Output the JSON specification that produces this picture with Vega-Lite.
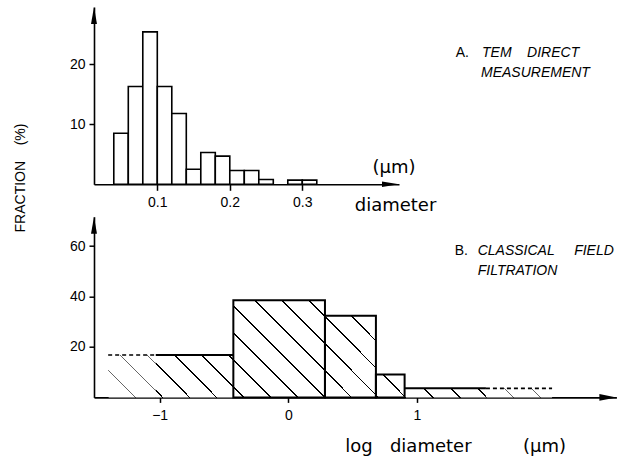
{
  "$schema": "https://vega.github.io/schema/vega-lite/v6.json",
  "background": "white",
  "padding": {"left": 13, "top": 7, "right": 0, "bottom": 0},
  "bounds": "flush",
  "spacing": 31.7,
  "resolve": {"scale": {"x": "independent", "y": "independent"}},
  "config": {
    "view": {"stroke": null},
    "font": "Liberation Sans",
    "axis": {
      "grid": false,
      "labelFont": "Liberation Sans",
      "labelFontSize": 14,
      "labelColor": "black",
      "domainColor": "black",
      "domainWidth": 1.6,
      "tickColor": "black",
      "tickWidth": 1.5,
      "tickSize": 5,
      "titleFont": "DejaVu Sans",
      "titleFontWeight": "normal",
      "titleFontSize": 18,
      "titleColor": "black"
    }
  },
  "vconcat": [
    {
      "width": 305,
      "height": 177.3,
      "layer": [
        {
          "data": {"values": [
            {"lo": 0.04, "hi": 0.06, "frac": 8.5},
            {"lo": 0.06, "hi": 0.08, "frac": 16.3},
            {"lo": 0.08, "hi": 0.10, "frac": 25.4},
            {"lo": 0.10, "hi": 0.12, "frac": 16.3},
            {"lo": 0.12, "hi": 0.14, "frac": 11.8},
            {"lo": 0.14, "hi": 0.16, "frac": 2.5},
            {"lo": 0.16, "hi": 0.18, "frac": 5.3},
            {"lo": 0.18, "hi": 0.20, "frac": 4.7},
            {"lo": 0.20, "hi": 0.22, "frac": 2.3},
            {"lo": 0.22, "hi": 0.24, "frac": 2.3},
            {"lo": 0.24, "hi": 0.26, "frac": 0.8},
            {"lo": 0.28, "hi": 0.30, "frac": 0.7},
            {"lo": 0.30, "hi": 0.32, "frac": 0.7}
          ]},
          "mark": {"type": "rect", "fill": "white", "stroke": "black", "strokeWidth": 1.6},
          "encoding": {
            "x": {
              "field": "lo", "type": "quantitative",
              "scale": {"domain": [0.0127, 0.4334], "nice": false, "zero": false},
              "axis": {
                "values": [0.1, 0.2, 0.3], "format": ".1f", "tickSize": 6, "labelPadding": 5,
                "title": "diameter",
                "titleX": 301, "titleY": 25.7, "titleAlign": "center", "titleBaseline": "alphabetic"
              }
            },
            "x2": {"field": "hi"},
            "y": {
              "field": "frac", "type": "quantitative",
              "scale": {"domain": [0, 29.55], "nice": false, "zero": false},
              "axis": {
                "values": [10, 20], "tickSize": 5, "labelPadding": 4,
                "title": "FRACTION\u00a0\u00a0\u00a0\u00a0(%)",
                "titleX": -73.2, "titleY": 170.5, "titleAngle": 270,
                "titleAlign": "center", "titleBaseline": "middle",
                "titleFont": "Liberation Sans", "titleFontSize": 14
              }
            },
            "y2": {"datum": 0}
          }
        },
        {
          "data": {"values": [{}]},
          "mark": {"type": "point", "filled": true, "fill": "black", "stroke": null, "opacity": 1, "size": 289, "shape": "M0,0L0.35,2L-0.35,2Z"},
          "encoding": {
            "x": {"datum": 0.0127, "type": "quantitative"},
            "y": {"datum": 29.55, "type": "quantitative"}
          }
        },
        {
          "data": {"values": [{}]},
          "mark": {"type": "point", "filled": true, "fill": "black", "stroke": null, "opacity": 1, "size": 289, "shape": "M0,0L-2,-0.33L-2,0.33Z"},
          "encoding": {
            "x": {"datum": 0.4334, "type": "quantitative"},
            "y": {"datum": 0, "type": "quantitative"}
          }
        },
        {
          "data": {"values": [{}]},
          "mark": {"type": "text", "text": "(μm)", "align": "center", "baseline": "alphabetic", "font": "DejaVu Sans", "fontSize": 18, "color": "black"},
          "encoding": {
            "x": {"datum": 0.4265, "type": "quantitative"},
            "y": {"datum": 1.93, "type": "quantitative"}
          }
        },
        {
          "data": {"values": [{}]},
          "mark": {"type": "text", "text": "A.", "align": "left", "baseline": "middle", "font": "Liberation Sans", "fontSize": 14, "color": "black"},
          "encoding": {
            "x": {"datum": 0.5116, "type": "quantitative"},
            "y": {"datum": 21.82, "type": "quantitative"}
          }
        },
        {
          "data": {"values": [{}]},
          "mark": {"type": "text", "text": "TEM\u00a0\u00a0\u00a0\u00a0DIRECT", "align": "left", "baseline": "middle", "font": "Liberation Sans", "fontStyle": "italic", "fontSize": 14, "color": "black"},
          "encoding": {
            "x": {"datum": 0.5479, "type": "quantitative"},
            "y": {"datum": 21.82, "type": "quantitative"}
          }
        },
        {
          "data": {"values": [{}]},
          "mark": {"type": "text", "text": "MEASUREMENT", "align": "left", "baseline": "middle", "font": "Liberation Sans", "fontStyle": "italic", "fontSize": 14, "color": "black"},
          "encoding": {
            "x": {"datum": 0.5465, "type": "quantitative"},
            "y": {"datum": 18.48, "type": "quantitative"}
          }
        }
      ]
    },
    {
      "width": 522.4,
      "height": 180.7,
      "data": {"values": [
        {"lo": -1.4, "hi": -1.03, "frac": 16.8, "part": "extrapolated"},
        {"lo": -1.03, "hi": -0.427, "frac": 16.8, "part": "measured"},
        {"lo": -0.427, "hi": 0.285, "frac": 38.5, "part": "measured"},
        {"lo": 0.285, "hi": 0.681, "frac": 32.4, "part": "measured"},
        {"lo": 0.681, "hi": 0.904, "frac": 9.1, "part": "measured"},
        {"lo": 0.904, "hi": 1.536, "frac": 3.6, "part": "measured"},
        {"lo": 1.536, "hi": 2.05, "frac": 3.6, "part": "extrapolated"}
      ]},
      "layer": [
        {
          "transform": [{"filter": "datum.lo == -1.4"}],
          "mark": {"type": "rect", "strokeWidth": 0, "fill": {"gradient": "linear", "x1": 0, "y1": 1, "x2": 1.0553, "y2": 0.0622, "stops": [
            {"offset": 0, "color": "#666"}, {"offset": 0.0117, "color": "#666"}, {"offset": 0.0117, "color": "white"},
            {"offset": 0.2964, "color": "white"}, {"offset": 0.2964, "color": "#666"}, {"offset": 0.3120, "color": "#666"}, {"offset": 0.3120, "color": "white"},
            {"offset": 0.5967, "color": "white"}, {"offset": 0.5967, "color": "#666"}, {"offset": 0.6123, "color": "#666"}, {"offset": 0.6123, "color": "white"},
            {"offset": 0.8971, "color": "white"}, {"offset": 0.8971, "color": "#666"}, {"offset": 0.9127, "color": "#666"}, {"offset": 0.9127, "color": "white"},
            {"offset": 1, "color": "white"}
          ]}},
          "encoding": {
            "x": {
              "field": "lo", "type": "quantitative",
              "scale": {"domain": [-1.51, 2.55], "nice": false, "zero": false},
              "axis": {
                "values": [-1, 0, 1], "format": "d", "tickSize": 5, "labelPadding": 6,
                "title": "log\u00a0\u00a0\u00a0diameter\u00a0\u00a0\u00a0\u00a0\u00a0\u00a0\u00a0\u00a0\u00a0(μm)",
                "titleX": 361.2, "titleY": 48.7, "titleAlign": "center", "titleBaseline": "middle"
              }
            },
            "x2": {"field": "hi"},
            "y": {
              "field": "frac", "type": "quantitative",
              "scale": {"domain": [0, 71.7], "nice": false, "zero": false},
              "axis": {"values": [20, 40, 60], "tickSize": 5, "labelPadding": 4, "title": null}
            },
            "y2": {"datum": 0}
          }
        },
        {
          "transform": [{"filter": "datum.lo == -1.03"}],
          "mark": {"type": "rect", "strokeWidth": 0, "fill": {"gradient": "linear", "x1": 0, "y1": 1, "x2": 1.1912, "y2": 0.3507, "stops": [
            {"offset": 0, "color": "white"},
            {"offset": 0.0487, "color": "white"}, {"offset": 0.0487, "color": "black"}, {"offset": 0.0637, "color": "black"}, {"offset": 0.0637, "color": "white"},
            {"offset": 0.2739, "color": "white"}, {"offset": 0.2739, "color": "black"}, {"offset": 0.2889, "color": "black"}, {"offset": 0.2889, "color": "white"},
            {"offset": 0.4991, "color": "white"}, {"offset": 0.4991, "color": "black"}, {"offset": 0.5141, "color": "black"}, {"offset": 0.5141, "color": "white"},
            {"offset": 0.7243, "color": "white"}, {"offset": 0.7243, "color": "black"}, {"offset": 0.7393, "color": "black"}, {"offset": 0.7393, "color": "white"},
            {"offset": 0.9495, "color": "white"}, {"offset": 0.9495, "color": "black"}, {"offset": 0.9645, "color": "black"}, {"offset": 0.9645, "color": "white"},
            {"offset": 1, "color": "white"}
          ]}},
          "encoding": {
            "x": {"field": "lo", "type": "quantitative"},
            "x2": {"field": "hi"},
            "y": {"field": "frac", "type": "quantitative"},
            "y2": {"datum": 0}
          }
        },
        {
          "transform": [{"filter": "datum.lo == -0.427"}],
          "mark": {"type": "rect", "strokeWidth": 0, "fill": {"gradient": "linear", "x1": 0, "y1": 1, "x2": 0.9706, "y2": -0.0278, "stops": [
            {"offset": 0, "color": "white"},
            {"offset": 0.0490, "color": "white"}, {"offset": 0.0490, "color": "black"}, {"offset": 0.0586, "color": "black"}, {"offset": 0.0586, "color": "white"},
            {"offset": 0.1922, "color": "white"}, {"offset": 0.1922, "color": "black"}, {"offset": 0.2018, "color": "black"}, {"offset": 0.2018, "color": "white"},
            {"offset": 0.3353, "color": "white"}, {"offset": 0.3353, "color": "black"}, {"offset": 0.3449, "color": "black"}, {"offset": 0.3449, "color": "white"},
            {"offset": 0.4785, "color": "white"}, {"offset": 0.4785, "color": "black"}, {"offset": 0.4881, "color": "black"}, {"offset": 0.4881, "color": "white"},
            {"offset": 0.6217, "color": "white"}, {"offset": 0.6217, "color": "black"}, {"offset": 0.6313, "color": "black"}, {"offset": 0.6313, "color": "white"},
            {"offset": 0.7648, "color": "white"}, {"offset": 0.7648, "color": "black"}, {"offset": 0.7744, "color": "black"}, {"offset": 0.7744, "color": "white"},
            {"offset": 0.9080, "color": "white"}, {"offset": 0.9080, "color": "black"}, {"offset": 0.9176, "color": "black"}, {"offset": 0.9176, "color": "white"},
            {"offset": 1, "color": "white"}
          ]}},
          "encoding": {
            "x": {"field": "lo", "type": "quantitative"},
            "x2": {"field": "hi"},
            "y": {"field": "frac", "type": "quantitative"},
            "y2": {"datum": 0}
          }
        },
        {
          "transform": [{"filter": "datum.lo == 0.285"}],
          "mark": {"type": "rect", "strokeWidth": 0, "fill": {"gradient": "linear", "x1": 0, "y1": 1, "x2": 0.7303, "y2": -0.1685, "stops": [
            {"offset": 0, "color": "white"},
            {"offset": 0.1934, "color": "white"}, {"offset": 0.1934, "color": "black"}, {"offset": 0.2070, "color": "black"}, {"offset": 0.2070, "color": "white"},
            {"offset": 0.3970, "color": "white"}, {"offset": 0.3970, "color": "black"}, {"offset": 0.4106, "color": "black"}, {"offset": 0.4106, "color": "white"},
            {"offset": 0.6006, "color": "white"}, {"offset": 0.6006, "color": "black"}, {"offset": 0.6142, "color": "black"}, {"offset": 0.6142, "color": "white"},
            {"offset": 0.8042, "color": "white"}, {"offset": 0.8042, "color": "black"}, {"offset": 0.8178, "color": "black"}, {"offset": 0.8178, "color": "white"},
            {"offset": 1, "color": "white"}
          ]}},
          "encoding": {
            "x": {"field": "lo", "type": "quantitative"},
            "x2": {"field": "hi"},
            "y": {"field": "frac", "type": "quantitative"},
            "y2": {"datum": 0}
          }
        },
        {
          "transform": [{"filter": "datum.lo == 0.681"}],
          "mark": {"type": "rect", "strokeWidth": 0, "fill": {"gradient": "linear", "x1": 0, "y1": 1, "x2": 1.0985, "y2": 0.1235, "stops": [
            {"offset": 0, "color": "white"},
            {"offset": 0.0326, "color": "white"}, {"offset": 0.0326, "color": "black"}, {"offset": 0.0674, "color": "black"}, {"offset": 0.0674, "color": "white"},
            {"offset": 0.5559, "color": "white"}, {"offset": 0.5559, "color": "black"}, {"offset": 0.5907, "color": "black"}, {"offset": 0.5907, "color": "white"},
            {"offset": 1, "color": "white"}
          ]}},
          "encoding": {
            "x": {"field": "lo", "type": "quantitative"},
            "x2": {"field": "hi"},
            "y": {"field": "frac", "type": "quantitative"},
            "y2": {"datum": 0}
          }
        },
        {
          "transform": [{"filter": "datum.lo == 0.904"}],
          "mark": {"type": "rect", "strokeWidth": 0, "fill": {"gradient": "linear", "x1": 0, "y1": 1, "x2": 1.0979, "y2": 0.8775, "stops": [
            {"offset": 0, "color": "black"}, {"offset": 0.0198, "color": "black"}, {"offset": 0.0198, "color": "white"},
            {"offset": 0.2986, "color": "white"}, {"offset": 0.2986, "color": "black"}, {"offset": 0.3186, "color": "black"}, {"offset": 0.3186, "color": "white"},
            {"offset": 0.5974, "color": "white"}, {"offset": 0.5974, "color": "black"}, {"offset": 0.6174, "color": "black"}, {"offset": 0.6174, "color": "white"},
            {"offset": 0.8961, "color": "white"}, {"offset": 0.8961, "color": "black"}, {"offset": 0.9161, "color": "black"}, {"offset": 0.9161, "color": "white"},
            {"offset": 1, "color": "white"}
          ]}},
          "encoding": {
            "x": {"field": "lo", "type": "quantitative"},
            "x2": {"field": "hi"},
            "y": {"field": "frac", "type": "quantitative"},
            "y2": {"datum": 0}
          }
        },
        {
          "transform": [{"filter": "datum.lo == 1.536"}],
          "mark": {"type": "rect", "strokeWidth": 0, "fill": {"gradient": "linear", "x1": 0, "y1": 1, "x2": 1.1162, "y2": 0.8468, "stops": [
            {"offset": 0, "color": "#666"}, {"offset": 0.0169, "color": "#666"}, {"offset": 0.0169, "color": "white"},
            {"offset": 0.3575, "color": "white"}, {"offset": 0.3575, "color": "#666"}, {"offset": 0.3761, "color": "#666"}, {"offset": 0.3761, "color": "white"},
            {"offset": 0.7167, "color": "white"}, {"offset": 0.7167, "color": "#666"}, {"offset": 0.7353, "color": "#666"}, {"offset": 0.7353, "color": "white"},
            {"offset": 1, "color": "white"}
          ]}},
          "encoding": {
            "x": {"field": "lo", "type": "quantitative"},
            "x2": {"field": "hi"},
            "y": {"field": "frac", "type": "quantitative"},
            "y2": {"datum": 0}
          }
        },
        {
          "transform": [{"filter": "datum.part == 'measured' && datum.lo > -0.5 && datum.hi < 1"}],
          "mark": {"type": "rect", "fill": null, "fillOpacity": 0, "stroke": "black", "strokeWidth": 2},
          "encoding": {
            "x": {"field": "lo", "type": "quantitative"},
            "x2": {"field": "hi"},
            "y": {"field": "frac", "type": "quantitative"},
            "y2": {"datum": 0}
          }
        },
        {
          "transform": [{"filter": "datum.part == 'measured' && (datum.lo < -0.5 || datum.hi > 1)"}],
          "mark": {"type": "rule", "color": "black", "strokeWidth": 2},
          "encoding": {
            "x": {"field": "lo", "type": "quantitative"},
            "x2": {"field": "hi"},
            "y": {"field": "frac", "type": "quantitative"}
          }
        },
        {
          "transform": [{"filter": "datum.part == 'extrapolated'"}],
          "mark": {"type": "rule", "color": "black", "strokeWidth": 1.6, "strokeDash": [4, 3]},
          "encoding": {
            "x": {"field": "lo", "type": "quantitative"},
            "x2": {"field": "hi"},
            "y": {"field": "frac", "type": "quantitative"}
          }
        },
        {
          "data": {"values": [{}]},
          "mark": {"type": "point", "filled": true, "fill": "black", "stroke": null, "opacity": 1, "size": 289, "shape": "M0,0L0.35,2L-0.35,2Z"},
          "encoding": {
            "x": {"datum": -1.51, "type": "quantitative"},
            "y": {"datum": 71.7, "type": "quantitative"}
          }
        },
        {
          "data": {"values": [{}]},
          "mark": {"type": "point", "filled": true, "fill": "black", "stroke": null, "opacity": 1, "size": 289, "shape": "M0,0L-2,-0.4L-2,0.4Z"},
          "encoding": {
            "x": {"datum": 2.55, "type": "quantitative"},
            "y": {"datum": 0, "type": "quantitative"}
          }
        },
        {
          "data": {"values": [{}]},
          "mark": {"type": "text", "text": "B.", "align": "left", "baseline": "middle", "font": "Liberation Sans", "fontSize": 14, "color": "black"},
          "encoding": {
            "x": {"datum": 1.2933, "type": "quantitative"},
            "y": {"datum": 58.17, "type": "quantitative"}
          }
        },
        {
          "data": {"values": [{}]},
          "mark": {"type": "text", "text": "CLASSICAL\u00a0\u00a0\u00a0\u00a0\u00a0FIELD", "align": "left", "baseline": "middle", "font": "Liberation Sans", "fontStyle": "italic", "fontSize": 14, "color": "black"},
          "encoding": {
            "x": {"datum": 1.472, "type": "quantitative"},
            "y": {"datum": 58.17, "type": "quantitative"}
          }
        },
        {
          "data": {"values": [{}]},
          "mark": {"type": "text", "text": "FILTRATION", "align": "left", "baseline": "middle", "font": "Liberation Sans", "fontStyle": "italic", "fontSize": 14, "color": "black"},
          "encoding": {
            "x": {"datum": 1.472, "type": "quantitative"},
            "y": {"datum": 50.24, "type": "quantitative"}
          }
        }
      ]
    }
  ]
}
